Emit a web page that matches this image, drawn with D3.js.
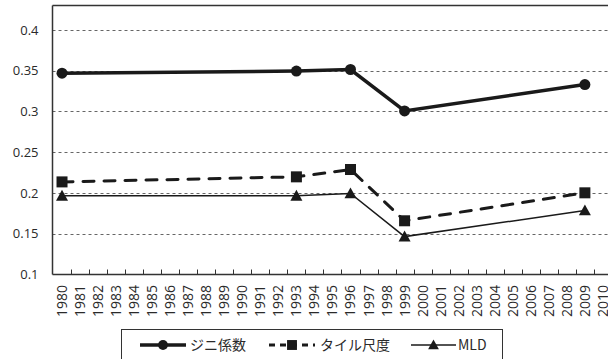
<!DOCTYPE html>
<html>
<head>
<meta charset="utf-8">
<script src="https://cdn.jsdelivr.net/npm/d3@7"></script>
<style>
  body { margin: 0; background: #fff; }
  text { font-family: "Open Sans", "Noto Sans CJK JP", sans-serif; fill: #2a2a2a; }
</style>
</head>
<body>
<div id="chart"></div>
<script>
// years on the category axis
var years = d3.range(1980, 2011).map(String);
var yTicks = [0.1, 0.15, 0.2, 0.25, 0.3, 0.35, 0.4];

// survey years and the three inequality measures
var obsYears = ["1980", "1993", "1996", "1999", "2009"];
var gini  = [0.347, 0.3495, 0.3515, 0.3006, 0.333];
var theil = [0.2136, 0.2198, 0.2288, 0.1659, 0.2002];
var mld   = [0.1965, 0.1965, 0.1995, 0.1465, 0.1785];

var seriesNames = ["ジニ係数", "タイル尺度", "MLD"];

var w = 608, h = 359;
var plotLeft = 52.5, plotTop = 5.5, plotBottom = 274.5;

var svg = d3.select("#chart").append("svg")
  .attr("width", w).attr("height", h);

var x = d3.scaleBand().domain(years).range([53, 53 + 31 * 18.03]);
var y = d3.scaleLinear().domain([0.1, 0.43]).range([plotBottom, plotTop]);

// gridlines
svg.append("g").selectAll("line")
  .data(yTicks.slice(1))
  .enter().append("line")
  .attr("x1", plotLeft).attr("x2", w)
  .attr("y1", d => Math.round(y(d)) + 0.5).attr("y2", d => Math.round(y(d)) + 0.5)
  .attr("stroke", "#666").attr("stroke-width", 1)
  .attr("stroke-dasharray", "3,3");

// frame: top
svg.append("line").attr("x1", plotLeft).attr("x2", w).attr("y1", plotTop).attr("y2", plotTop)
  .attr("stroke", "#333").attr("stroke-width", 1.5);

// y axis
var yAxis = d3.axisLeft(y).tickValues(yTicks).tickSize(0).tickPadding(14)
  .tickFormat(d => String(+d.toFixed(2)));
var gy = svg.append("g").attr("transform", "translate(" + plotLeft + ",0)").call(yAxis);
gy.select(".domain").attr("stroke", "#333").attr("stroke-width", 1.5)
  .attr("d", "M0," + plotTop + "V" + plotBottom);
gy.selectAll("text").style("font-size", "13px").attr("fill", "#2a2a2a");

// x axis: ticks between the categories, pointing up
var gx = svg.append("g").attr("transform", "translate(0," + plotBottom + ")");
gx.append("line").attr("x1", plotLeft).attr("x2", w).attr("stroke", "#333").attr("stroke-width", 1.5);
gx.selectAll(".tk").data(years.slice(1))
  .enter().append("line").attr("class", "tk")
  .attr("x1", d => Math.round(x(d)) + 0.5).attr("x2", d => Math.round(x(d)) + 0.5)
  .attr("y1", 0).attr("y2", -5)
  .attr("stroke", "#333").attr("stroke-width", 1);
gx.selectAll(".lb").data(years)
  .enter().append("text").attr("class", "lb")
  .attr("transform", d => "translate(" + (x(d) + x.bandwidth() / 2 + 5) + ",10.5) rotate(-90)")
  .attr("text-anchor", "end")
  .style("font-size", "14px")
  .text(d => d);

var cx = d => x(d) + x.bandwidth() / 2;
var line = d3.line().x(d => cx(d[0])).y(d => y(d[1]));

function series(vals, width, dash, marker) {
  var pts = obsYears.map((yr, i) => [yr, vals[i]]);
  svg.append("path").datum(pts).attr("d", line)
    .attr("fill", "none").attr("stroke", "#1a1a1a").attr("stroke-width", width)
    .attr("stroke-dasharray", dash)
    .attr("stroke-linecap", dash ? "round" : "butt");
  pts.forEach(p => drawMarker(marker, cx(p[0]), y(p[1]), 1));
}

function drawMarker(type, px, py, s) {
  if (type === "circle") {
    svg.append("circle").attr("cx", px).attr("cy", py).attr("r", 5.5 * s).attr("fill", "#1a1a1a");
  } else if (type === "square") {
    svg.append("rect").attr("x", px - 5.5 * s).attr("y", py - 5.5 * s)
      .attr("width", 11 * s).attr("height", 11 * s).attr("fill", "#1a1a1a");
  } else {
    var r = 6 * s;
    svg.append("path")
      .attr("d", "M" + px + "," + (py - r) + "L" + (px + r) + "," + (py + r * 0.8) + "L" + (px - r) + "," + (py + r * 0.8) + "Z")
      .attr("fill", "#1a1a1a");
  }
}

series(mld, 1.5, null, "triangle");
series(theil, 3, "11,10", "square");
series(gini, 3.5, null, "circle");

// legend
svg.append("rect").attr("x", 121.5).attr("y", 329.5).attr("width", 381).attr("height", 40)
  .attr("fill", "none").attr("stroke", "#333").attr("stroke-width", 1);
var legend = [
  { x0: 140, x1: 186, tx: 190, w: 3.5, dash: null, m: "circle" },
  { x0: 269, x1: 315, tx: 320, w: 3, dash: "6,5", m: "square" },
  { x0: 411, x1: 456, tx: 458, w: 1.5, dash: null, m: "triangle" }
];
var ly = 345;
legend.forEach((d, i) => {
  svg.append("line").attr("x1", d.x0).attr("x2", d.x1).attr("y1", ly).attr("y2", ly)
    .attr("stroke", "#1a1a1a").attr("stroke-width", d.w).attr("stroke-dasharray", d.dash);
  drawMarker(d.m, (d.x0 + d.x1) / 2, ly, 0.9);
  svg.append("text").attr("x", d.tx).attr("y", ly + 5)
    .style("font-size", "14px")
    .style("font-family", "'Noto Sans CJK JP', sans-serif")
    .text(seriesNames[i]);
});
</script>
</body>
</html>
